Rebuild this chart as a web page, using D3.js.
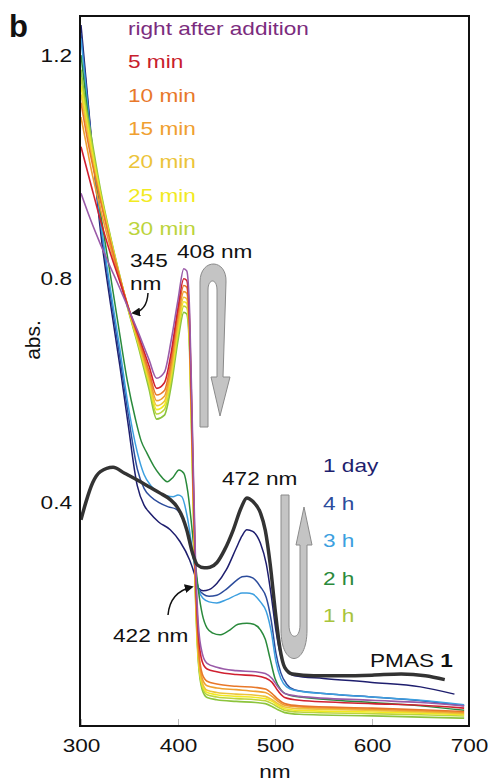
<!DOCTYPE html>
<html>
<head>
<meta charset="utf-8">
<script src="https://cdn.jsdelivr.net/npm/d3@7"></script>
<style>
  body { margin: 0; background: #fff; }
  text { font-family: "Liberation Sans", Arial, sans-serif; }
</style>
</head>
<body>
<div id="chart"></div>
<script>
// spectra: [wavelength nm, absorbance]
const afterAddition = [[300,.953],[310,.905],[320,.862],[330,.822],[340,.783],[348,.75],[360,.70],[370,.656],[378,.622],[386,.633],[393,.69],[400,.762],[406,.818],[409,.814],[412,.74],[415,.52],[418,.30],[421,.18],[425,.13],[430,.112],[440,.105],[460,.099],[480,.097],[490,.094],[497,.085],[503,.07],[510,.058],[525,.053],[600,.046],[650,.042],[695,.036]];
const min5 = [[300,1.036],[310,.97],[320,.905],[330,.847],[340,.795],[348,.752],[360,.695],[370,.645],[378,.604],[386,.614],[393,.668],[400,.748],[406,.80],[409,.797],[412,.72],[415,.50],[418,.28],[421,.165],[425,.115],[430,.102],[440,.097],[460,.092],[480,.09],[490,.086],[497,.078],[503,.063],[510,.051],[525,.046],[600,.04],[650,.037],[695,.032]];
const min10 = [[300,1.115],[305,1.065],[310,1.02],[320,.94],[330,.868],[340,.802],[348,.754],[360,.69],[370,.635],[378,.592],[386,.60],[393,.655],[400,.738],[406,.788],[409,.785],[412,.71],[415,.49],[418,.265],[421,.145],[425,.093],[430,.08],[440,.075],[460,.071],[480,.069],[490,.066],[497,.058],[503,.048],[510,.04],[525,.036],[600,.032],[650,.029],[695,.026]];
const min15 = [[300,1.089],[305,1.045],[310,1.0],[320,.925],[330,.858],[340,.797],[348,.752],[360,.686],[370,.628],[378,.582],[386,.59],[393,.644],[400,.727],[406,.777],[409,.774],[412,.70],[415,.48],[418,.255],[421,.135],[425,.085],[430,.072],[440,.068],[460,.065],[480,.062],[490,.06],[497,.053],[503,.044],[510,.037],[525,.034],[600,.03],[650,.027],[695,.024]];
const min20 = [[300,1.13],[305,1.08],[310,1.03],[320,.945],[330,.87],[340,.802],[348,.752],[360,.683],[370,.622],[378,.573],[386,.581],[393,.635],[400,.717],[406,.767],[409,.764],[412,.69],[415,.47],[418,.25],[421,.128],[425,.078],[430,.064],[440,.06],[460,.057],[480,.055],[490,.053],[497,.047],[503,.04],[510,.034],[525,.031],[600,.028],[650,.025],[695,.022]];
const min25 = [[300,1.145],[305,1.09],[310,1.04],[320,.95],[330,.873],[340,.803],[348,.751],[360,.68],[370,.617],[378,.566],[386,.574],[393,.628],[400,.709],[406,.759],[409,.756],[412,.685],[415,.465],[418,.245],[421,.123],[425,.074],[430,.06],[440,.056],[460,.053],[480,.051],[490,.049],[497,.044],[503,.037],[510,.031],[525,.028],[600,.025],[650,.023],[695,.02]];
const min30 = [[300,1.16],[305,1.10],[310,1.05],[320,.955],[330,.876],[340,.804],[348,.75],[360,.677],[370,.611],[378,.558],[386,.566],[393,.62],[400,.701],[406,.751],[409,.748],[412,.68],[415,.46],[418,.24],[421,.12],[425,.07],[430,.056],[440,.052],[460,.049],[480,.047],[490,.045],[497,.04],[503,.034],[510,.028],[525,.025],[600,.022],[650,.02],[695,.018]];
const hour1 = [[300,1.174],[305,1.11],[310,1.06],[320,.96],[330,.878],[340,.805],[348,.749],[360,.673],[370,.604],[378,.549],[386,.556],[393,.609],[400,.69],[406,.74],[409,.737],[412,.67],[415,.45],[418,.235],[421,.115],[425,.065],[430,.051],[440,.047],[460,.044],[480,.042],[490,.04],[497,.035],[503,.029],[510,.024],[525,.021],[600,.018],[650,.016],[695,.014]];
const hour2 = [[300,1.20],[310,1.05],[320,.92],[330,.81],[340,.70],[348,.615],[356,.55],[362,.51],[368,.488],[375,.465],[381,.45],[389,.437],[395,.445],[401,.458],[406,.452],[410,.42],[414,.36],[418,.29],[421,.243],[425,.20],[430,.175],[436,.166],[443,.163],[452,.17],[462,.182],[471,.184],[478,.182],[485,.172],[490,.155],[495,.12],[500,.085],[506,.065],[515,.055],[550,.048],[600,.042],[650,.036],[695,.028]];
const hour3 = [[300,1.23],[310,1.055],[320,.905],[330,.785],[340,.675],[348,.58],[358,.49],[365,.45],[372,.43],[380,.418],[388,.412],[395,.41],[400,.413],[404,.41],[410,.37],[416,.30],[421,.245],[426,.228],[432,.222],[440,.22],[450,.226],[460,.234],[466,.238],[471,.238],[477,.236],[485,.222],[491,.205],[496,.17],[501,.115],[506,.085],[512,.07],[520,.064],[550,.058],[600,.052],[650,.046],[695,.038]];
const hour4 = [[300,1.24],[310,1.06],[320,.90],[330,.775],[340,.66],[348,.565],[358,.46],[365,.425],[372,.41],[380,.40],[390,.392],[398,.388],[405,.37],[412,.33],[417,.29],[421,.246],[426,.236],[432,.232],[440,.234],[450,.245],[460,.26],[466,.267],[471,.268],[477,.265],[485,.249],[491,.23],[496,.19],[501,.13],[506,.095],[512,.075],[520,.065],[550,.058],[600,.052],[650,.045],[695,.036]];
const day1 = [[300,1.254],[310,1.065],[320,.887],[330,.76],[340,.645],[348,.547],[358,.43],[365,.395],[371,.381],[380,.365],[392,.351],[402,.33],[412,.297],[417,.272],[421,.247],[426,.242],[432,.244],[440,.255],[450,.28],[460,.318],[466,.34],[471,.351],[477,.348],[485,.327],[491,.29],[496,.235],[501,.17],[506,.125],[512,.10],[520,.09],[550,.085],[600,.078],[650,.07],[685,.057]];
const pmas1 = [[300,.369],[305,.40],[312,.435],[320,.455],[333,.463],[345,.452],[358,.44],[370,.428],[381,.417],[392,.405],[399,.392],[405,.372],[409,.351],[415,.309],[420,.288],[427,.283],[433,.284],[440,.292],[448,.315],[457,.351],[465,.39],[471,.408],[477,.402],[485,.381],[490,.35],[495,.29],[500,.21],[505,.14],[510,.105],[518,.093],[540,.09],[570,.09],[600,.091],[630,.093],[655,.09],[675,.083]];

const minuteLabels = ["right after addition", "5 min", "10 min", "15 min", "20 min", "25 min", "30 min"];
const minuteColors = ["#9a5aa8", "#d02030", "#e8782a", "#f0a030", "#ecc43a", "#f2ea22", "#bcd43c"];
const minuteText = ["#7b2c7e", "#c8202c", "#e8782a", "#f0a030", "#ecc43a", "#f2ea22", "#bcd43c"];
const hourLabels = ["1 day", "4 h", "3 h", "2 h", "1 h"];
const hourColors = ["#1e1e6e", "#2c4c9c", "#3c9fe0", "#2a8a3c", "#8cc43c"];
const hourText = ["#1e1e6e", "#2c4c9c", "#3c9fe0", "#2a8a3c", "#a8c43c"];
const xTicks = [300, 400, 500, 600, 700];
const yTicks = [0.4, 0.8, 1.2];

const W = 488, H = 782;
const x = d3.scaleLinear().domain([300, 700]).range([81, 469]);
const y = d3.scaleLinear().domain([0, 1.27]).range([726, 16]);
const SX = 1.19, FS = 19;

const svg = d3.select("#chart").append("svg")
    .attr("width", W).attr("height", H);

svg.append("defs").append("marker")
    .attr("id", "head")
    .attr("viewBox", "0 0 10 10")
    .attr("refX", 8).attr("refY", 5)
    .attr("markerWidth", 6).attr("markerHeight", 6)
    .attr("orient", "auto")
    .append("path").attr("d", "M0,0 L10,5 L0,10 Z").attr("fill", "#111");

function label(px, py, str, color, anchor) {
    return svg.append("text")
        .attr("transform", `translate(${px},${py}) scale(${SX},1)`)
        .attr("text-anchor", anchor || "start")
        .attr("font-size", FS)
        .attr("fill", color)
        .text(str);
}

// axes
const xAxis = svg.append("g")
    .attr("transform", "translate(0,726)")
    .call(d3.axisBottom(x).tickValues(xTicks).tickSizeInner(-7).tickSizeOuter(0).tickPadding(13).tickFormat(d3.format("d")));
xAxis.select(".domain").remove();
xAxis.selectAll(".tick line").attr("stroke", "#bbb");
xAxis.selectAll(".tick text").attr("font-size", FS).attr("fill", "#111")
    .attr("font-family", "Liberation Sans, Arial, sans-serif")
    .attr("transform", `scale(${SX},1)`);

const yAxis = svg.append("g")
    .attr("transform", "translate(80,0)")
    .call(d3.axisLeft(y).tickValues(yTicks).tickSize(0).tickFormat(d3.format(".1f")));
yAxis.select(".domain").remove();
yAxis.selectAll(".tick text").attr("font-size", FS).attr("fill", "#111")
    .attr("font-family", "Liberation Sans, Arial, sans-serif")
    .attr("x", -8 / SX)
    .attr("transform", `scale(${SX},1)`);

const line = d3.line()
    .x(d => x(d[0]))
    .y(d => y(d[1]))
    .curve(d3.curveMonotoneX);

const hourSeries = [day1, hour4, hour3, hour2];
const minuteSeries = [afterAddition, min5, min10, min15, min20, min25, min30];

const plot = svg.append("g");
plot.selectAll(".hour")
    .data(hourSeries)
    .enter().append("path")
    .attr("class", "hour")
    .attr("d", line)
    .attr("fill", "none")
    .attr("stroke", (d, i) => hourColors[i])
    .attr("stroke-width", 1.5);

plot.append("path")
    .datum(hour1)
    .attr("d", line)
    .attr("fill", "none")
    .attr("stroke", hourColors[4])
    .attr("stroke-width", 1.7);

plot.selectAll(".minute")
    .data(minuteSeries.slice().reverse())
    .enter().append("path")
    .attr("class", "minute")
    .attr("d", line)
    .attr("fill", "none")
    .attr("stroke", (d, i) => minuteColors[minuteColors.length - 1 - i])
    .attr("stroke-width", 1.6);

plot.append("path")
    .datum(pmas1)
    .attr("d", line)
    .attr("fill", "none")
    .attr("stroke", "#333")
    .attr("stroke-width", 3.5);

// frame
svg.append("rect")
    .attr("x", 80).attr("y", 16)
    .attr("width", 389).attr("height", 710)
    .attr("fill", "none").attr("stroke", "#111").attr("stroke-width", 2);

// gray arrows
svg.append("path")
    .attr("d", "M200,427 L200,282 C200,258 227,258 226,282 L223,377 L230,377 L220,416 L211,377 L217,377 L217,290 C217,278 208,278 208,290 L208,427 Z")
    .attr("fill", "#c4c4c4").attr("stroke", "#8a8a8a").attr("stroke-width", 1);
svg.append("path")
    .attr("d", "M281,495 L289,495 L289,625 C289,640 300,640 300,625 L300,545 L296,545 L304,507 L312,545 L307,545 L307,630 C307,668 281,668 281,630 Z")
    .attr("fill", "#c4c4c4").attr("stroke", "#8a8a8a").attr("stroke-width", 1);

// pointer arrows
svg.append("path").attr("d", "M148,293 Q147,311 133,313")
    .attr("fill", "none").attr("stroke", "#111").attr("stroke-width", 1.5).attr("marker-end", "url(#head)");
svg.append("path").attr("d", "M168,615 Q170,592 192,587")
    .attr("fill", "none").attr("stroke", "#111").attr("stroke-width", 1.5).attr("marker-end", "url(#head)");

// legends
minuteLabels.forEach((t, i) => label(128, 35 + i * 33.3, t, minuteText[i]));
hourLabels.forEach((t, i) => label(323, 472 + i * 37.5, t, hourText[i]));

const pm = label(370, 667, "PMAS ", "#111");
pm.append("tspan").attr("font-weight", "bold").text("1");

// annotations
label(130, 267, "345", "#111");
label(130, 290, "nm", "#111");
label(177, 258, "408 nm", "#111");
label(222, 485, "472 nm", "#111");
label(113, 642, "422 nm", "#111");

// axis titles and panel letter
label(275, 778, "nm", "#111", "middle");
svg.append("text")
    .attr("transform", "translate(40,340) rotate(-90)")
    .attr("text-anchor", "middle")
    .attr("font-size", 21)
    .attr("fill", "#111")
    .text("abs.");
svg.append("text")
    .attr("x", 9).attr("y", 37)
    .attr("font-size", 31)
    .attr("font-weight", "bold")
    .attr("fill", "#111")
    .text("b");
</script>
</body>
</html>
